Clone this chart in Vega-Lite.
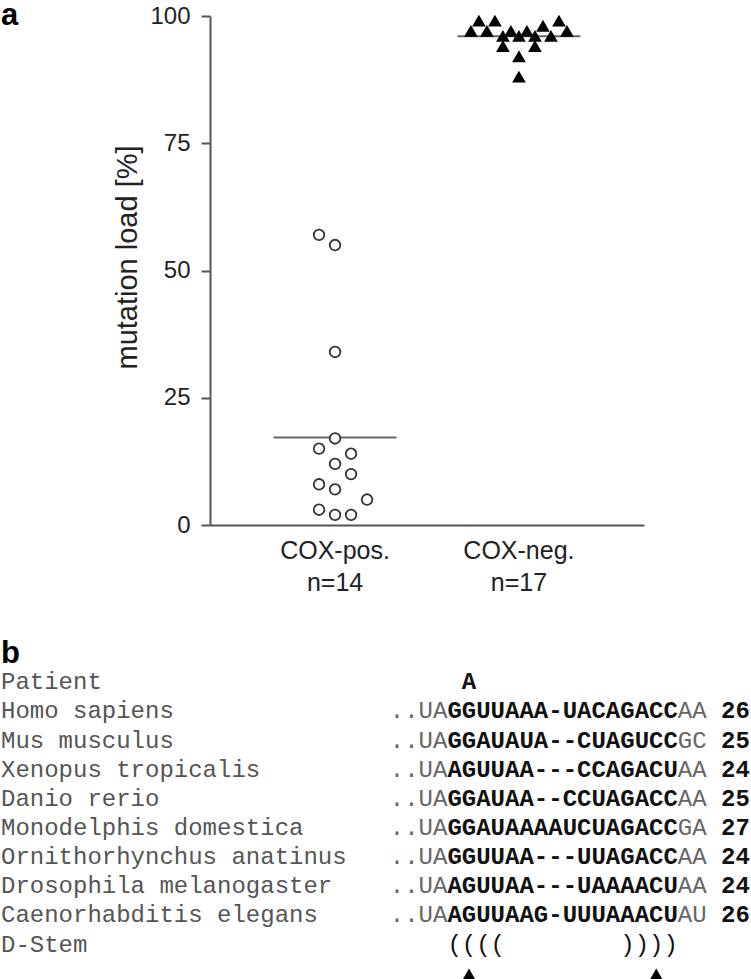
{
  "$schema": "https://vega.github.io/schema/vega-lite/v6.json",
  "padding": {"left": 0, "top": 0, "right": 0, "bottom": 0},
  "background": "white",
  "columns": 1,
  "align": "none",
  "spacing": 42,
  "config": {
    "view": {"stroke": null},
    "font": "Liberation Sans"
  },
  "datasets": {
    "load": [
      {"group": "COX-pos.|n=14", "value": 57, "slot": -2},
      {"group": "COX-pos.|n=14", "value": 55, "slot": 0},
      {"group": "COX-pos.|n=14", "value": 34, "slot": 0},
      {"group": "COX-pos.|n=14", "value": 17, "slot": 0},
      {"group": "COX-pos.|n=14", "value": 15, "slot": -2},
      {"group": "COX-pos.|n=14", "value": 14, "slot": 2},
      {"group": "COX-pos.|n=14", "value": 12, "slot": 0},
      {"group": "COX-pos.|n=14", "value": 10, "slot": 2},
      {"group": "COX-pos.|n=14", "value": 8, "slot": -2},
      {"group": "COX-pos.|n=14", "value": 7, "slot": 0},
      {"group": "COX-pos.|n=14", "value": 5, "slot": 4},
      {"group": "COX-pos.|n=14", "value": 3, "slot": -2},
      {"group": "COX-pos.|n=14", "value": 2, "slot": 0},
      {"group": "COX-pos.|n=14", "value": 2, "slot": 2},
      {"group": "COX-neg.|n=17", "value": 99, "slot": -5},
      {"group": "COX-neg.|n=17", "value": 99, "slot": -3},
      {"group": "COX-neg.|n=17", "value": 99, "slot": 5},
      {"group": "COX-neg.|n=17", "value": 97, "slot": -6},
      {"group": "COX-neg.|n=17", "value": 97, "slot": -4},
      {"group": "COX-neg.|n=17", "value": 97, "slot": -1},
      {"group": "COX-neg.|n=17", "value": 97, "slot": 1},
      {"group": "COX-neg.|n=17", "value": 98, "slot": 3},
      {"group": "COX-neg.|n=17", "value": 97, "slot": 6},
      {"group": "COX-neg.|n=17", "value": 96, "slot": -2},
      {"group": "COX-neg.|n=17", "value": 96, "slot": 0},
      {"group": "COX-neg.|n=17", "value": 96, "slot": 2},
      {"group": "COX-neg.|n=17", "value": 96, "slot": 4},
      {"group": "COX-neg.|n=17", "value": 94, "slot": -2},
      {"group": "COX-neg.|n=17", "value": 94, "slot": 2},
      {"group": "COX-neg.|n=17", "value": 92, "slot": 0},
      {"group": "COX-neg.|n=17", "value": 88, "slot": 0}
    ],
    "alignment": [
      {"line": "Patient", "col": 0, "text": "Patient", "kind": "name"},
      {"line": "Patient", "col": 32, "text": "A", "kind": "bold"},
      {"line": "Homo sapiens", "col": 0, "text": "Homo sapiens", "kind": "name"},
      {"line": "Homo sapiens", "col": 27, "text": "..UA", "kind": "flank"},
      {"line": "Homo sapiens", "col": 31, "text": "GGUUAAA-UACAGACC", "kind": "bold"},
      {"line": "Homo sapiens", "col": 47, "text": "AA", "kind": "flank"},
      {"line": "Homo sapiens", "col": 50, "text": "26", "kind": "bold"},
      {"line": "Mus musculus", "col": 0, "text": "Mus musculus", "kind": "name"},
      {"line": "Mus musculus", "col": 27, "text": "..UA", "kind": "flank"},
      {"line": "Mus musculus", "col": 31, "text": "GGAUAUA--CUAGUCC", "kind": "bold"},
      {"line": "Mus musculus", "col": 47, "text": "GC", "kind": "flank"},
      {"line": "Mus musculus", "col": 50, "text": "25", "kind": "bold"},
      {"line": "Xenopus tropicalis", "col": 0, "text": "Xenopus tropicalis", "kind": "name"},
      {"line": "Xenopus tropicalis", "col": 27, "text": "..UA", "kind": "flank"},
      {"line": "Xenopus tropicalis", "col": 31, "text": "AGUUAA---CCAGACU", "kind": "bold"},
      {"line": "Xenopus tropicalis", "col": 47, "text": "AA", "kind": "flank"},
      {"line": "Xenopus tropicalis", "col": 50, "text": "24", "kind": "bold"},
      {"line": "Danio rerio", "col": 0, "text": "Danio rerio", "kind": "name"},
      {"line": "Danio rerio", "col": 27, "text": "..UA", "kind": "flank"},
      {"line": "Danio rerio", "col": 31, "text": "GGAUAA--CCUAGACC", "kind": "bold"},
      {"line": "Danio rerio", "col": 47, "text": "AA", "kind": "flank"},
      {"line": "Danio rerio", "col": 50, "text": "25", "kind": "bold"},
      {"line": "Monodelphis domestica", "col": 0, "text": "Monodelphis domestica", "kind": "name"},
      {"line": "Monodelphis domestica", "col": 27, "text": "..UA", "kind": "flank"},
      {"line": "Monodelphis domestica", "col": 31, "text": "GGAUAAAAUCUAGACC", "kind": "bold"},
      {"line": "Monodelphis domestica", "col": 47, "text": "GA", "kind": "flank"},
      {"line": "Monodelphis domestica", "col": 50, "text": "27", "kind": "bold"},
      {"line": "Ornithorhynchus anatinus", "col": 0, "text": "Ornithorhynchus anatinus", "kind": "name"},
      {"line": "Ornithorhynchus anatinus", "col": 27, "text": "..UA", "kind": "flank"},
      {"line": "Ornithorhynchus anatinus", "col": 31, "text": "GGUUAA---UUAGACC", "kind": "bold"},
      {"line": "Ornithorhynchus anatinus", "col": 47, "text": "AA", "kind": "flank"},
      {"line": "Ornithorhynchus anatinus", "col": 50, "text": "24", "kind": "bold"},
      {"line": "Drosophila melanogaster", "col": 0, "text": "Drosophila melanogaster", "kind": "name"},
      {"line": "Drosophila melanogaster", "col": 27, "text": "..UA", "kind": "flank"},
      {"line": "Drosophila melanogaster", "col": 31, "text": "AGUUAA---UAAAACU", "kind": "bold"},
      {"line": "Drosophila melanogaster", "col": 47, "text": "AA", "kind": "flank"},
      {"line": "Drosophila melanogaster", "col": 50, "text": "24", "kind": "bold"},
      {"line": "Caenorhabditis elegans", "col": 0, "text": "Caenorhabditis elegans", "kind": "name"},
      {"line": "Caenorhabditis elegans", "col": 27, "text": "..UA", "kind": "flank"},
      {"line": "Caenorhabditis elegans", "col": 31, "text": "AGUUAAG-UUUAAACU", "kind": "bold"},
      {"line": "Caenorhabditis elegans", "col": 47, "text": "AU", "kind": "flank"},
      {"line": "Caenorhabditis elegans", "col": 50, "text": "26", "kind": "bold"},
      {"line": "D-Stem", "col": 0, "text": "D-Stem", "kind": "name"},
      {"line": "D-Stem", "col": 31, "text": "((((", "kind": "stem"},
      {"line": "D-Stem", "col": 43, "text": "))))", "kind": "stem"}
    ],
    "markers": [
      {"line": "marker", "col": 32},
      {"line": "marker", "col": 45}
    ]
  },
  "concat": [
    {
      "width": 434,
      "height": 509,
      "title": {"text": "a", "anchor": "start", "frame": "group", "dx": -209, "dy": 28, "offset": 0, "fontSize": 31, "fontWeight": "bold", "font": "Liberation Sans", "color": "black"},
      "data": {"name": "load"},
      "encoding": {
        "x": {
          "field": "group", "type": "nominal", "sort": null,
          "scale": {"paddingInner": 0.2, "paddingOuter": 0.28},
          "axis": {
            "title": null, "labelAngle": 0, "ticks": false, "labelPadding": 13,
            "labelExpr": "split(datum.label, '|')",
            "labelFont": "Liberation Sans", "labelFontSize": 25, "labelColor": "#222", "labelLineHeight": 32.6,
            "domainColor": "#555", "domainWidth": 2
          }
        },
        "y": {
          "field": "value", "type": "quantitative",
          "scale": {"domain": [0, 100], "nice": false},
          "axis": {
            "title": "mutation load [%]", "values": [0, 25, 50, 75, 100], "grid": false,
            "domainColor": "#555", "domainWidth": 2, "tickColor": "#555", "tickWidth": 2, "tickSize": 9,
            "labelPadding": 11, "labelFont": "Liberation Sans", "labelFontSize": 24, "labelColor": "#222",
            "titleFont": "Liberation Sans", "titleFontSize": 29, "titleFontWeight": "normal", "titleColor": "#222", "titlePadding": 7,
            "titleY": 241
          }
        }
      },
      "layer": [
        {
          "mark": {"type": "tick", "orient": "horizontal", "size": 123, "thickness": 2, "color": "#666"},
          "encoding": {
            "y": {"aggregate": "mean", "field": "value", "type": "quantitative"}
          }
        },
        {
          "mark": {"type": "point", "strokeWidth": 1.8, "size": 112, "opacity": 1},
          "encoding": {
            "xOffset": {"field": "slot", "type": "quantitative", "scale": {"domain": [-9.19, 9.19]}},
            "shape": {"field": "group", "type": "nominal", "sort": null, "scale": {"range": ["circle", "triangle-up"]}, "legend": null},
            "fill": {"field": "group", "type": "nominal", "sort": null, "scale": {"range": ["#ffffff", "#000000"]}, "legend": null},
            "stroke": {"field": "group", "type": "nominal", "sort": null, "scale": {"range": ["#333333", "#000000"]}, "legend": null}
          }
        }
      ]
    },
    {
      "width": 542,
      "height": 306,
      "title": {"text": "b", "anchor": "start", "frame": "group", "dx": -209, "offset": 0, "fontSize": 31, "fontWeight": "bold", "font": "Liberation Sans", "color": "black"},
      "encoding": {
        "x": {"field": "col", "type": "quantitative", "scale": {"domain": [14.514, 52.15], "nice": false, "zero": false}, "axis": null},
        "y": {
          "field": "line", "type": "ordinal",
          "scale": {"type": "point", "padding": 0.25, "domain": ["Patient", "Homo sapiens", "Mus musculus", "Xenopus tropicalis", "Danio rerio", "Monodelphis domestica", "Ornithorhynchus anatinus", "Drosophila melanogaster", "Caenorhabditis elegans", "D-Stem", "marker"]},
          "axis": null
        }
      },
      "layer": [
        {
          "data": {"name": "alignment"},
          "transform": [{"filter": "datum.kind === 'name'"}],
          "mark": {"type": "text", "align": "left", "baseline": "middle", "font": "Liberation Mono", "fontSize": 24, "color": "#555"},
          "encoding": {"text": {"field": "text"}}
        },
        {
          "data": {"name": "alignment"},
          "transform": [{"filter": "datum.kind === 'flank'"}],
          "mark": {"type": "text", "align": "left", "baseline": "middle", "font": "Liberation Mono", "fontSize": 24, "color": "#666"},
          "encoding": {"text": {"field": "text"}}
        },
        {
          "data": {"name": "alignment"},
          "transform": [{"filter": "datum.kind === 'bold'"}],
          "mark": {"type": "text", "align": "left", "baseline": "middle", "font": "Liberation Mono", "fontSize": 24, "fontWeight": "bold", "color": "#111"},
          "encoding": {"text": {"field": "text"}}
        },
        {
          "data": {"name": "alignment"},
          "transform": [{"filter": "datum.kind === 'stem'"}],
          "mark": {"type": "text", "align": "left", "baseline": "middle", "font": "Liberation Mono", "fontSize": 24, "color": "#111"},
          "encoding": {"text": {"field": "text"}}
        },
        {
          "data": {"name": "markers"},
          "mark": {"type": "point", "shape": "triangle-up", "filled": true, "size": 144, "color": "#000", "opacity": 1, "xOffset": 7.2}
        }
      ]
    }
  ]
}
